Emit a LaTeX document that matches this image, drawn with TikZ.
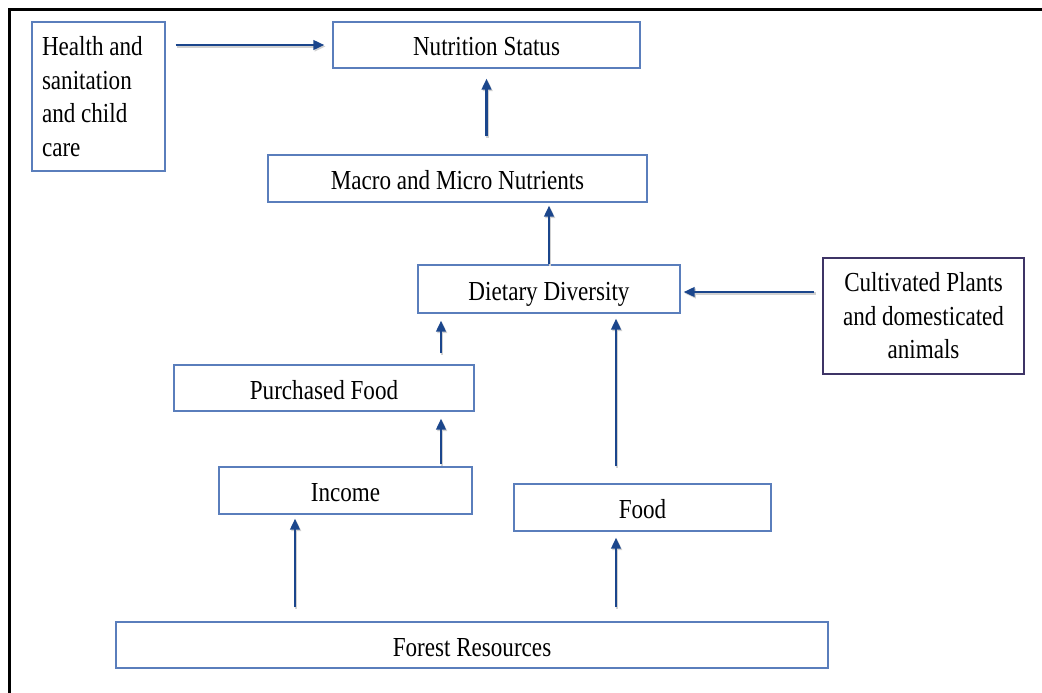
\documentclass[tikz,border=0pt]{standalone}
\usepackage{fontspec}
\setmainfont{Liberation Serif}[FakeStretch=0.84]
\usetikzlibrary{arrows.meta,calc}
\definecolor{boxblue}{HTML}{5A7EBC}
\definecolor{arrowblue}{HTML}{1B468C}
\definecolor{boxpurple}{HTML}{3E3466}
\tikzset{
  box/.style={draw=boxblue, line width=1.3pt, inner sep=0pt, font=\fontsize{27.5}{33.5}\selectfont},
  onebox/.style={box, text height=24pt, text depth=2pt},
  arr/.style={draw=arrowblue, line width=2.5pt, -{Triangle[length=11pt,width=9.5pt]},
    preaction={draw=black!18, line width=2.5pt, transform canvas={xshift=1.2pt,yshift=-1.5pt}, -{Triangle[length=11pt,width=9.5pt]}}},
}
\begin{document}
\begin{tikzpicture}[x=1pt,y=-1pt]
\useasboundingbox (0,0) rectangle (1042,693);
% outer frame
\draw[line width=3pt] (9,693) -- (9,10) -- (1042,10);
% nodes
\node[box, minimum width=133pt, minimum height=149pt, text width=113pt, align=flush left] (health) at (98.5,96.5)
  {Health and\\sanitation\\and child\\care};
\node[onebox, minimum width=307pt, minimum height=46pt] (nut) at (486.5,45) {Nutrition Status};
\node[onebox, minimum width=379pt, minimum height=47pt] (macro) at (457.5,178.5) {Macro and Micro Nutrients};
\node[onebox, minimum width=262pt, minimum height=48pt] (diet) at (549,289) {Dietary Diversity};
\node[box, draw=boxpurple, minimum width=201pt, minimum height=116pt, align=center] (cult) at (923.5,316)
  {Cultivated Plants\\and domesticated\\animals};
\node[onebox, minimum width=300pt, minimum height=46pt] (purch) at (324,388) {Purchased Food};
\node[onebox, minimum width=253pt, minimum height=47pt] (inc) at (345.5,490.5) {Income};
\node[onebox, minimum width=257pt, minimum height=47pt] (food) at (642.5,507.5) {Food};
\node[onebox, minimum width=712pt, minimum height=46pt] (forest) at (472,645) {Forest Resources};
% helper coordinates
\coordinate (pa) at ($(purch.north)+(117,0)$);
\coordinate (pb) at (pa |- diet.south);
\coordinate (ia) at ($(inc.north)+(95.5,0)$);
\coordinate (ib) at (ia |- purch.south);
\coordinate (fa) at ($(food.north)+(-26.5,0)$);
\coordinate (fb) at (fa |- diet.south);
\coordinate (ga) at (forest.north -| 295,0);
\coordinate (gb) at (inc.south -| 295,0);
\coordinate (ha) at (forest.north -| fa);
\coordinate (hb) at (food.south -| fa);
\coordinate (ca) at ($(cult.west |- diet.east)+(0,3)$);
\coordinate (cb) at ($(diet.east)+(0,3)$);
% connectors
\draw[arr, shorten <=10pt, shorten >=8pt] (health.east |- nut.west) -- (nut.west);
\draw[arr, shorten <=18pt, shorten >=10pt] (macro.north -| nut.south) -- (nut.south);
\draw[arr, shorten >=3pt] (diet.north) -- (diet.north |- macro.south);
\draw[arr, shorten <=8pt, shorten >=3pt] (ca) -- (cb);
\draw[arr, shorten <=11pt, shorten >=7pt] (pa) -- (pb);
\draw[arr, shorten <=2pt, shorten >=7pt] (ia) -- (ib);
\draw[arr, shorten <=17pt, shorten >=5pt] (fa) -- (fb);
\draw[arr, shorten <=14pt, shorten >=4pt] (ga) -- (gb);
\draw[arr, shorten <=14pt, shorten >=6pt] (ha) -- (hb);
\end{tikzpicture}
\end{document}
